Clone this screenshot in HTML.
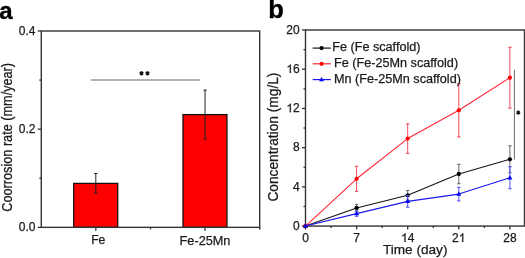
<!DOCTYPE html>
<html><head><meta charset="utf-8"><style>
html,body{margin:0;padding:0;background:#fff;width:525px;height:258px;overflow:hidden}
svg{display:block;font-family:"Liberation Sans", sans-serif;will-change:transform}
text{stroke:#1a1a1a;stroke-width:0.25px}
</style></head><body>
<svg width="525" height="258" viewBox="0 0 525 258" font-family='"Liberation Sans", sans-serif' fill="#1a1a1a">
<text x="-0.7" y="18.5" font-size="24" font-weight="bold" style="fill:#000;stroke:#000;stroke-width:0.35px">a</text>
<rect x="73.7" y="183.4" width="44.00" height="43.95" fill="#ff0000" stroke="#111" stroke-width="1.3"/>
<line x1="95.8" y1="173.5" x2="95.8" y2="193.0" stroke="#222" stroke-width="1"/>
<line x1="94.20" y1="173.5" x2="97.40" y2="173.5" stroke="#222" stroke-width="1.1"/>
<line x1="94.20" y1="193.0" x2="97.40" y2="193.0" stroke="#222" stroke-width="1.1"/>
<rect x="183.0" y="114.6" width="43.95" height="112.75" fill="#ff0000" stroke="#111" stroke-width="1.3"/>
<line x1="205.05" y1="90.1" x2="205.05" y2="139.0" stroke="#222" stroke-width="1"/>
<line x1="203.45" y1="90.1" x2="206.65" y2="90.1" stroke="#222" stroke-width="1.1"/>
<line x1="203.45" y1="139.0" x2="206.65" y2="139.0" stroke="#222" stroke-width="1.1"/>
<rect x="41.3" y="31.0" width="218.40" height="196.35" fill="none" stroke="#333" stroke-width="1.4"/>
<line x1="37.70" y1="227.35" x2="41.3" y2="227.35" stroke="#333" stroke-width="1.3"/>
<text x="35.50" y="230.85" font-size="12" text-anchor="end">0.0</text>
<line x1="37.70" y1="129.18" x2="41.3" y2="129.18" stroke="#333" stroke-width="1.3"/>
<text x="35.50" y="132.68" font-size="12" text-anchor="end">0.2</text>
<line x1="37.70" y1="31.00" x2="41.3" y2="31.00" stroke="#333" stroke-width="1.3"/>
<text x="35.50" y="34.50" font-size="12" text-anchor="end">0.4</text>
<line x1="39.30" y1="178.26" x2="41.3" y2="178.26" stroke="#333" stroke-width="1.3"/>
<line x1="39.30" y1="80.09" x2="41.3" y2="80.09" stroke="#333" stroke-width="1.3"/>
<line x1="95.80" y1="227.35" x2="95.80" y2="230.75" stroke="#333" stroke-width="1.3"/>
<line x1="150.50" y1="227.35" x2="150.50" y2="229.35" stroke="#333" stroke-width="1.3"/>
<line x1="205.05" y1="227.35" x2="205.05" y2="230.75" stroke="#333" stroke-width="1.3"/>
<text x="98.3" y="244" font-size="12.2" text-anchor="middle">Fe</text>
<text x="205.0" y="244.8" font-size="12.7" text-anchor="middle">Fe-25Mn</text>
<text transform="translate(12.2,137.3) rotate(-90) scale(1,1.08)" font-size="12.7" text-anchor="middle">Coorrosion rate (mm/year)</text>
<line x1="91" y1="80" x2="200" y2="80" stroke="#666" stroke-width="1.15"/>
<line x1="259.7" y1="227.35" x2="259.7" y2="229.75" stroke="#333" stroke-width="1.3"/>
<path d="M141.50,71.20L141.50,75.40M139.68,72.25L143.32,74.35M139.68,74.35L143.32,72.25" stroke="#111" stroke-width="1.5" fill="none"/>
<path d="M147.50,71.20L147.50,75.40M145.68,72.25L149.32,74.35M145.68,74.35L149.32,72.25" stroke="#111" stroke-width="1.5" fill="none"/>
<text x="268.2" y="18.4" font-size="25.5" font-weight="bold" style="fill:#000;stroke:#000;stroke-width:0.35px">b</text>
<rect x="305.5" y="30.0" width="219.0" height="196.05" fill="none" stroke="#333" stroke-width="1.4"/>
<line x1="301.90" y1="226.05" x2="305.5" y2="226.05" stroke="#333" stroke-width="1.3"/>
<text x="299.70" y="229.85" font-size="12" text-anchor="end">0</text>
<line x1="303.50" y1="206.45" x2="305.5" y2="206.45" stroke="#333" stroke-width="1.3"/>
<line x1="301.90" y1="186.84" x2="305.5" y2="186.84" stroke="#333" stroke-width="1.3"/>
<text x="299.70" y="190.64" font-size="12" text-anchor="end">4</text>
<line x1="303.50" y1="167.24" x2="305.5" y2="167.24" stroke="#333" stroke-width="1.3"/>
<line x1="301.90" y1="147.63" x2="305.5" y2="147.63" stroke="#333" stroke-width="1.3"/>
<text x="299.70" y="151.43" font-size="12" text-anchor="end">8</text>
<line x1="303.50" y1="128.03" x2="305.5" y2="128.03" stroke="#333" stroke-width="1.3"/>
<line x1="301.90" y1="108.42" x2="305.5" y2="108.42" stroke="#333" stroke-width="1.3"/>
<text x="299.70" y="112.22" font-size="12" text-anchor="end"><tspan style="fill:none;stroke:none">1</tspan>2</text>
<path transform="translate(286.352,112.22) scale(0.005859,-0.005859)" d="M763 0L583 0L583 1147C540 1106 483 1065 413 1024C342 983 279 953 223 932L223 1106C324 1153 412 1211 487 1278C562 1345 615 1411 646 1466L763 1466Z" fill="#1a1a1a" stroke="#1a1a1a" stroke-width="42.7"/>
<line x1="303.50" y1="88.81" x2="305.5" y2="88.81" stroke="#333" stroke-width="1.3"/>
<line x1="301.90" y1="69.21" x2="305.5" y2="69.21" stroke="#333" stroke-width="1.3"/>
<text x="299.70" y="73.01" font-size="12" text-anchor="end"><tspan style="fill:none;stroke:none">1</tspan>6</text>
<path transform="translate(286.352,73.01) scale(0.005859,-0.005859)" d="M763 0L583 0L583 1147C540 1106 483 1065 413 1024C342 983 279 953 223 932L223 1106C324 1153 412 1211 487 1278C562 1345 615 1411 646 1466L763 1466Z" fill="#1a1a1a" stroke="#1a1a1a" stroke-width="42.7"/>
<line x1="303.50" y1="49.61" x2="305.5" y2="49.61" stroke="#333" stroke-width="1.3"/>
<line x1="301.90" y1="30.00" x2="305.5" y2="30.00" stroke="#333" stroke-width="1.3"/>
<text x="299.70" y="33.80" font-size="12" text-anchor="end">20</text>
<line x1="305.50" y1="226.05" x2="305.50" y2="229.45" stroke="#333" stroke-width="1.3"/>
<text x="305.50" y="241.90" font-size="12" text-anchor="middle">0</text>
<line x1="331.05" y1="226.05" x2="331.05" y2="228.05" stroke="#333" stroke-width="1.3"/>
<line x1="356.60" y1="226.05" x2="356.60" y2="229.45" stroke="#333" stroke-width="1.3"/>
<text x="356.60" y="241.90" font-size="12" text-anchor="middle">7</text>
<line x1="382.15" y1="226.05" x2="382.15" y2="228.05" stroke="#333" stroke-width="1.3"/>
<line x1="407.70" y1="226.05" x2="407.70" y2="229.45" stroke="#333" stroke-width="1.3"/>
<text x="407.70" y="241.90" font-size="12" text-anchor="middle"><tspan style="fill:none;stroke:none">1</tspan>4</text>
<path transform="translate(401.026,241.90) scale(0.005859,-0.005859)" d="M763 0L583 0L583 1147C540 1106 483 1065 413 1024C342 983 279 953 223 932L223 1106C324 1153 412 1211 487 1278C562 1345 615 1411 646 1466L763 1466Z" fill="#1a1a1a" stroke="#1a1a1a" stroke-width="42.7"/>
<line x1="433.25" y1="226.05" x2="433.25" y2="228.05" stroke="#333" stroke-width="1.3"/>
<line x1="458.80" y1="226.05" x2="458.80" y2="229.45" stroke="#333" stroke-width="1.3"/>
<text x="458.80" y="241.90" font-size="12" text-anchor="middle">2<tspan style="fill:none;stroke:none">1</tspan></text>
<path transform="translate(458.800,241.90) scale(0.005859,-0.005859)" d="M763 0L583 0L583 1147C540 1106 483 1065 413 1024C342 983 279 953 223 932L223 1106C324 1153 412 1211 487 1278C562 1345 615 1411 646 1466L763 1466Z" fill="#1a1a1a" stroke="#1a1a1a" stroke-width="42.7"/>
<line x1="484.35" y1="226.05" x2="484.35" y2="228.05" stroke="#333" stroke-width="1.3"/>
<line x1="509.90" y1="226.05" x2="509.90" y2="229.45" stroke="#333" stroke-width="1.3"/>
<text x="509.90" y="241.90" font-size="12" text-anchor="middle">28</text>
<text x="415.2" y="254.4" font-size="13.6" text-anchor="middle">Time (day)</text>
<text transform="translate(277.8,137.1) rotate(-90) scale(1,1.08)" font-size="13.75" text-anchor="middle">Concentration (mg/L)</text>
<line x1="356.60" y1="204.40" x2="356.60" y2="211.60" stroke="#6a6a6a" stroke-width="1"/>
<line x1="354.90" y1="204.40" x2="358.30" y2="204.40" stroke="#6a6a6a" stroke-width="1.1"/>
<line x1="354.90" y1="211.60" x2="358.30" y2="211.60" stroke="#6a6a6a" stroke-width="1.1"/>
<line x1="407.70" y1="190.50" x2="407.70" y2="200.10" stroke="#6a6a6a" stroke-width="1"/>
<line x1="406.00" y1="190.50" x2="409.40" y2="190.50" stroke="#6a6a6a" stroke-width="1.1"/>
<line x1="406.00" y1="200.10" x2="409.40" y2="200.10" stroke="#6a6a6a" stroke-width="1.1"/>
<line x1="458.80" y1="164.30" x2="458.80" y2="183.70" stroke="#6a6a6a" stroke-width="1"/>
<line x1="457.10" y1="164.30" x2="460.50" y2="164.30" stroke="#6a6a6a" stroke-width="1.1"/>
<line x1="457.10" y1="183.70" x2="460.50" y2="183.70" stroke="#6a6a6a" stroke-width="1.1"/>
<line x1="509.90" y1="145.80" x2="509.90" y2="172.80" stroke="#6a6a6a" stroke-width="1"/>
<line x1="508.20" y1="145.80" x2="511.60" y2="145.80" stroke="#6a6a6a" stroke-width="1.1"/>
<line x1="508.20" y1="172.80" x2="511.60" y2="172.80" stroke="#6a6a6a" stroke-width="1.1"/>
<polyline fill="none" stroke="#141414" stroke-width="1.1" stroke-linejoin="round" points="305.50,226.05 356.60,208.00 407.70,195.30 458.80,174.00 509.90,159.30"/>
<circle cx="305.50" cy="226.05" r="2.15" fill="#000"/>
<circle cx="356.60" cy="208.00" r="2.15" fill="#000"/>
<circle cx="407.70" cy="195.30" r="2.15" fill="#000"/>
<circle cx="458.80" cy="174.00" r="2.15" fill="#000"/>
<circle cx="509.90" cy="159.30" r="2.15" fill="#000"/>
<line x1="356.60" y1="166.25" x2="356.60" y2="191.35" stroke="#f04a5a" stroke-width="1"/>
<line x1="354.90" y1="166.25" x2="358.30" y2="166.25" stroke="#f04a5a" stroke-width="1.1"/>
<line x1="354.90" y1="191.35" x2="358.30" y2="191.35" stroke="#f04a5a" stroke-width="1.1"/>
<line x1="407.70" y1="123.90" x2="407.70" y2="153.30" stroke="#f04a5a" stroke-width="1"/>
<line x1="406.00" y1="123.90" x2="409.40" y2="123.90" stroke="#f04a5a" stroke-width="1.1"/>
<line x1="406.00" y1="153.30" x2="409.40" y2="153.30" stroke="#f04a5a" stroke-width="1.1"/>
<line x1="458.80" y1="83.70" x2="458.80" y2="136.90" stroke="#f04a5a" stroke-width="1"/>
<line x1="457.10" y1="83.70" x2="460.50" y2="83.70" stroke="#f04a5a" stroke-width="1.1"/>
<line x1="457.10" y1="136.90" x2="460.50" y2="136.90" stroke="#f04a5a" stroke-width="1.1"/>
<line x1="509.90" y1="47.30" x2="509.90" y2="108.10" stroke="#f04a5a" stroke-width="1"/>
<line x1="508.20" y1="47.30" x2="511.60" y2="47.30" stroke="#f04a5a" stroke-width="1.1"/>
<line x1="508.20" y1="108.10" x2="511.60" y2="108.10" stroke="#f04a5a" stroke-width="1.1"/>
<polyline fill="none" stroke="#ff2535" stroke-width="1.1" stroke-linejoin="round" points="305.50,226.05 356.60,178.80 407.70,138.60 458.80,110.30 509.90,77.70"/>
<circle cx="305.50" cy="226.05" r="2.15" fill="#ff0505"/>
<circle cx="356.60" cy="178.80" r="2.15" fill="#ff0505"/>
<circle cx="407.70" cy="138.60" r="2.15" fill="#ff0505"/>
<circle cx="458.80" cy="110.30" r="2.15" fill="#ff0505"/>
<circle cx="509.90" cy="77.70" r="2.15" fill="#ff0505"/>
<line x1="356.60" y1="210.90" x2="356.60" y2="216.30" stroke="#5050f5" stroke-width="1"/>
<line x1="354.90" y1="210.90" x2="358.30" y2="210.90" stroke="#5050f5" stroke-width="1.1"/>
<line x1="354.90" y1="216.30" x2="358.30" y2="216.30" stroke="#5050f5" stroke-width="1.1"/>
<line x1="407.70" y1="195.50" x2="407.70" y2="207.20" stroke="#5050f5" stroke-width="1"/>
<line x1="406.00" y1="195.50" x2="409.40" y2="195.50" stroke="#5050f5" stroke-width="1.1"/>
<line x1="406.00" y1="207.20" x2="409.40" y2="207.20" stroke="#5050f5" stroke-width="1.1"/>
<line x1="458.80" y1="187.30" x2="458.80" y2="200.90" stroke="#5050f5" stroke-width="1"/>
<line x1="457.10" y1="187.30" x2="460.50" y2="187.30" stroke="#5050f5" stroke-width="1.1"/>
<line x1="457.10" y1="200.90" x2="460.50" y2="200.90" stroke="#5050f5" stroke-width="1.1"/>
<line x1="509.90" y1="166.70" x2="509.90" y2="188.70" stroke="#5050f5" stroke-width="1"/>
<line x1="508.20" y1="166.70" x2="511.60" y2="166.70" stroke="#5050f5" stroke-width="1.1"/>
<line x1="508.20" y1="188.70" x2="511.60" y2="188.70" stroke="#5050f5" stroke-width="1.1"/>
<polyline fill="none" stroke="#1818f0" stroke-width="1.1" stroke-linejoin="round" points="305.50,226.05 356.60,213.60 407.70,201.35 458.80,194.10 509.90,177.70"/>
<path d="M305.50,223.35 L308.00,227.75 L303.00,227.75 Z" fill="#0000ff"/>
<path d="M356.60,210.90 L359.10,215.30 L354.10,215.30 Z" fill="#0000ff"/>
<path d="M407.70,198.65 L410.20,203.05 L405.20,203.05 Z" fill="#0000ff"/>
<path d="M458.80,191.40 L461.30,195.80 L456.30,195.80 Z" fill="#0000ff"/>
<path d="M509.90,175.00 L512.40,179.40 L507.40,179.40 Z" fill="#0000ff"/>
<line x1="312.7" y1="48.1" x2="330.8" y2="48.1" stroke="#141414" stroke-width="1.2"/>
<circle cx="321.6" cy="48.1" r="2.1" fill="#000"/>
<text x="332.2" y="51.4" font-size="12.65">Fe (Fe scaffold)</text>
<line x1="312.7" y1="63.8" x2="330.8" y2="63.8" stroke="#ff2535" stroke-width="1.2"/>
<circle cx="321.6" cy="63.8" r="2.1" fill="#ff0505"/>
<text x="334" y="67.0" font-size="12.65">Fe (Fe-25Mn scaffold)</text>
<line x1="312.7" y1="79.6" x2="330.8" y2="79.6" stroke="#1818f0" stroke-width="1.2"/>
<path d="M321.6,76.89999999999999 L324.1,81.3 L319.1,81.3 Z" fill="#0000ff"/>
<text x="334" y="82.8" font-size="12.65">Mn (Fe-25Mn scaffold)</text>
<line x1="514.45" y1="69.8" x2="514.45" y2="159.4" stroke="#7a7a7a" stroke-width="1.1"/>
<path d="M518.30,110.50L518.30,114.70M516.48,111.55L520.12,113.65M516.48,113.65L520.12,111.55" stroke="#111" stroke-width="1.5" fill="none"/>
</svg></body></html>
